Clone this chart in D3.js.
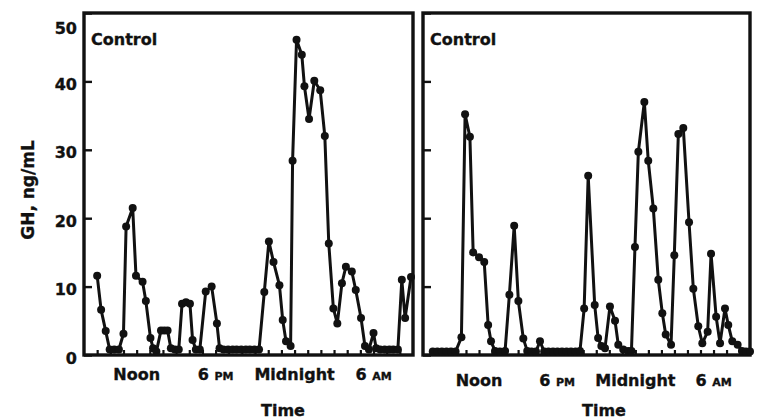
<!DOCTYPE html>
<html><head><meta charset="utf-8">
<script src="https://cdn.jsdelivr.net/npm/d3@7"></script>
<style>
body{margin:0;background:#fff}
svg{display:block}
text{font-family:"DejaVu Sans",sans-serif;font-weight:bold;fill:#111;stroke:#111;stroke-width:0.35px}
</style></head>
<body><svg width="768" height="420"></svg>
<script>
// Hours after 8 AM
const hoursLeft = [
  1.0,1.3,1.65,1.95,2.3,2.65,
  3.0,3.2,3.7,3.95,4.45,4.7,5.05,5.25,
  5.5,5.85,6.1,6.35,6.6,6.9,7.2,
  7.45,7.75,8.05,8.25,8.5,8.8,
  9.25,9.7,10.1,10.3,
  10.6,10.95,11.3,11.6,11.95,12.3,12.6,12.95,13.3,
  13.7,14.05,14.4,14.85,15.1,15.35,15.7,
  15.85,16.15,16.55,16.75,17.1,17.5,17.95,18.3,18.6,18.95,19.25,
  19.6,19.9,20.35,20.65,21.05,21.35,21.65,22.0,22.2,
  22.5,22.85,23.2,23.5,23.85,
  24.15,24.4,24.85
];
const valuesLeft = [
  11.6,6.6,3.5,0.8,0.8,0.8,
  3.1,18.8,21.5,11.6,10.7,7.9,2.5,1.0,
  0.5,3.6,3.6,3.6,1.0,0.8,0.8,
  7.5,7.7,7.5,2.2,0.8,0.8,
  9.3,10.0,4.6,1.0,
  0.8,0.8,0.8,0.8,0.8,0.8,0.8,0.8,0.8,
  9.2,16.6,13.6,10.2,5.1,2.0,1.3,
  28.4,46.1,43.9,39.3,34.5,40.1,38.7,32.0,16.3,6.8,4.6,
  10.5,12.9,12.2,9.5,5.4,1.3,0.8,3.2,1.0,
  0.8,0.8,0.8,0.8,0.8,
  11.0,5.4,11.4
];
const hoursRight = [
  0.45,0.8,1.15,1.5,1.85,2.2,
  2.65,2.93,3.3,3.55,4.0,4.4,4.7,4.92,5.23,5.6,6.0,
  6.33,6.7,7.02,7.4,7.7,8.03,8.37,8.68,9.0,
  9.33,9.68,10.02,10.37,10.72,11.06,11.41,11.75,
  12.07,12.38,12.88,13.14,13.39,13.67,14.05,14.44,14.69,15.07,15.44,15.7,
  15.97,16.23,16.69,16.99,17.38,17.76,18.07,18.33,18.74,
  18.99,19.3,19.68,20.12,20.45,20.83,21.14,
  21.55,21.81,22.2,22.5,22.88,23.13,23.44,23.85,24.18,24.49,24.8
];
const valuesRight = [
  0.5,0.5,0.5,0.5,0.5,0.5,
  2.6,35.2,31.9,15.0,14.3,13.6,4.4,2.0,0.6,0.5,0.6,
  8.8,18.9,7.9,2.4,0.6,0.5,0.5,2.0,0.5,
  0.5,0.5,0.5,0.5,0.5,0.5,0.5,0.6,
  6.8,26.2,7.3,2.5,1.3,1.0,7.1,5.0,1.5,0.8,0.6,0.6,
  15.8,29.7,37.0,28.4,21.4,11.0,6.1,3.0,1.5,
  14.6,32.3,33.2,19.4,9.7,4.2,1.7,
  3.4,14.8,5.6,1.7,6.8,4.4,2.0,1.5,0.6,0.5,0.5
];
const yTicks = [0,10,20,30,40,50];
const timeTicks = [4,10,16,22];
const timeLabels = [["Noon",""],["6 ","PM"],["Midnight",""],["6 ","AM"]];
const hourTicks = d3.range(1,25);
const panelTitle = "Control";
const yTitle = "GH, ng/mL";
const xTitle = "Time";

const svg = d3.select("svg");
const y = d3.scaleLinear().domain([0,50]).range([355,13]);

const panels = [
  {x0:84,x1:413,domain:[0,25],hours:hoursLeft,values:valuesLeft,labY:380,showY:true,timeX:283},
  {x0:423,x1:750,domain:[-0.3,24.8],hours:hoursRight,values:valuesRight,labY:386,showY:false,timeX:604}
];

panels.forEach(p=>{
  const x = d3.scaleLinear().domain(p.domain).range([p.x0,p.x1]);
  const g = svg.append("g");

  const yg = g.append("g").attr("transform",`translate(${p.x0},0)`)
    .call(d3.axisLeft(y).tickValues(yTicks).tickSize(-8).tickPadding(7)
      .tickFormat(p.showY ? d3.format("d") : ()=>""));
  yg.select(".domain").remove();
  yg.selectAll("line").attr("stroke","#111").attr("stroke-width",2.4);
  yg.selectAll("text").attr("font-size",16).attr("font-family","DejaVu Sans").attr("fill","#111")
    .attr("transform",d=> d===50 ? "translate(0,15)" : "translate(0,3)");

  const xg = g.append("g").attr("transform","translate(0,355)")
    .call(d3.axisBottom(x).tickValues(hourTicks).tickSize(-5).tickFormat(""));
  xg.select(".domain").remove();
  xg.selectAll("line").attr("stroke","#111").attr("stroke-width",2.2);

  const tl = g.selectAll("text.tl").data(timeTicks).join("text")
    .attr("class","tl").attr("x",d=>x(d)).attr("y",p.labY)
    .attr("text-anchor","middle").attr("font-size",16);
  tl.each(function(d,i){
    const t = d3.select(this);
    t.append("tspan").text(timeLabels[i][0]);
    if(timeLabels[i][1]) t.append("tspan").attr("font-size",11).text(timeLabels[i][1]);
  });

  g.append("rect").attr("x",p.x0).attr("y",y(50)).attr("width",p.x1-p.x0).attr("height",y(0)-y(50))
    .attr("fill","none").attr("stroke","#111").attr("stroke-width",3.4);

  const idx = d3.range(p.hours.length);
  g.append("path").datum(idx)
    .attr("d",d3.line().x(i=>x(p.hours[i])).y(i=>y(p.values[i])))
    .attr("fill","none").attr("stroke","#111").attr("stroke-width",3).attr("stroke-linejoin","round");
  g.selectAll("circle").data(idx).join("circle")
    .attr("cx",i=>x(p.hours[i])).attr("cy",i=>y(p.values[i])).attr("r",4).attr("fill","#111");

  g.append("text").attr("x",p.x0+7).attr("y",45).attr("font-size",16).text(panelTitle);
  g.append("text").attr("x",p.timeX).attr("y",416).attr("text-anchor","middle").attr("font-size",16).text(xTitle);
});

svg.append("text").attr("transform","translate(34,190) rotate(-90)")
  .attr("text-anchor","middle").attr("font-size",17).text(yTitle);
</script>
</body></html>
